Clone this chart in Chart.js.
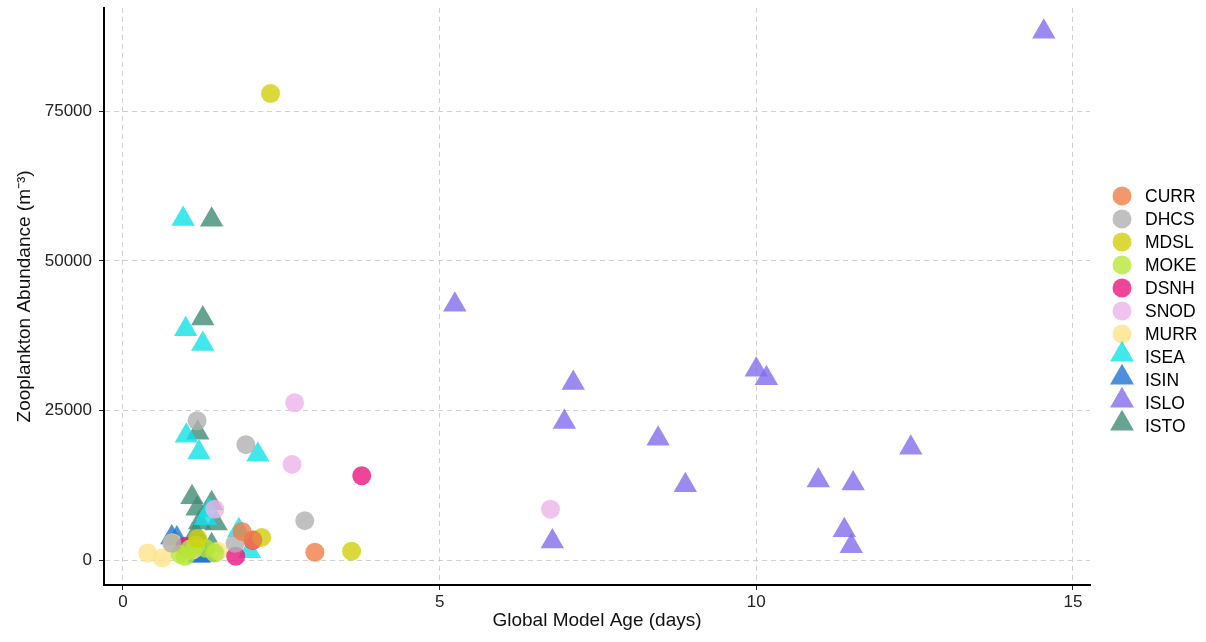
<!DOCTYPE html>
<html>
<head>
<meta charset="utf-8">
<script src="https://cdn.jsdelivr.net/npm/chart.js@4"></script>
<style>
  html, body { margin: 0; padding: 0; background: #fff; }
  #wrap { width: 1206px; height: 642px; }
</style>
</head>
<body>
<div id="wrap"><canvas id="chart"></canvas></div>
<script>
// ---- data ----
const groups = ["CURR", "DHCS", "MDSL", "MOKE", "DSNH", "SNOD", "MURR", "ISEA", "ISIN", "ISLO", "ISTO"];

const CURR_age = [1.88, 2.05, 3.03];
const CURR_abund = [4800, 3400, 1300];

const DHCS_age = [1.17, 1.94, 2.87, 1.77, 0.77];
const DHCS_abund = [23300, 19300, 6600, 2800, 2800];

const MDSL_age = [2.33, 3.61, 2.19, 1.18];
const MDSL_abund = [78000, 1500, 3800, 3600];

const MOKE_age = [0.9, 1.15, 1.3, 1.45, 0.98, 1.05];
const MOKE_abund = [1000, 2500, 2000, 1200, 600, 1800];

const DSNH_age = [3.77, 1.78, 2.05, 0.98];
const DSNH_abund = [14100, 650, 3300, 2300];

const SNOD_age = [2.71, 2.67, 6.75, 1.45];
const SNOD_abund = [26300, 16000, 8500, 8500];

const MURR_age = [0.39, 0.62, 0.78, 1.1, 1.5];
const MURR_abund = [1200, 350, 2900, 1700, 1500];

const ISEA_age = [0.95, 0.99, 1.26, 1.0, 1.2, 2.13, 1.83, 2.0, 1.36, 1.3];
const ISEA_abund = [57000, 38600, 36100, 20800, 18000, 17600, 5000, 1500, 8300, 7000];

const ISIN_age = [0.77, 0.85, 1.2, 1.3];
const ISIN_abund = [3800, 3600, 700, 800];

const ISLO_age = [14.54, 5.24, 10.0, 10.16, 7.11, 6.97, 8.45, 12.44, 8.88, 10.98, 11.53, 11.39, 11.5, 6.78];
const ISLO_abund = [88300, 42700, 31800, 30400, 29600, 23100, 20300, 18800, 12500, 13300, 12800, 5000, 2300, 3100];

const ISTO_age = [1.4, 1.26, 1.18, 1.09, 1.17, 1.4, 1.21, 1.47, 1.15, 1.4];
const ISTO_abund = [56900, 40400, 21300, 10500, 8600, 9500, 6300, 6100, 4500, 2500];

const xTicks = [0, 5, 10, 15];
const yTicks = [0, 25000, 50000, 75000];

// ---- styling ----
const colors = {
    CURR: "rgba(239,126,71,0.8)",
    DHCS: "rgba(176,176,176,0.8)",
    MDSL: "rgba(207,207,11,0.8)",
    MOKE: "rgba(183,230,55,0.8)",
    DSNH: "rgba(234,22,126,0.8)",
    SNOD: "rgba(236,180,234,0.8)",
    MURR: "rgba(255,227,136,0.8)",
    ISEA: "rgba(16,226,231,0.8)",
    ISIN: "rgba(29,116,210,0.8)",
    ISLO: "rgba(130,109,236,0.8)",
    ISTO: "rgba(65,140,118,0.8)"
};

const series = {
    CURR: [CURR_age, CURR_abund],
    DHCS: [DHCS_age, DHCS_abund],
    MDSL: [MDSL_age, MDSL_abund],
    MOKE: [MOKE_age, MOKE_abund],
    DSNH: [DSNH_age, DSNH_abund],
    SNOD: [SNOD_age, SNOD_abund],
    MURR: [MURR_age, MURR_abund],
    ISEA: [ISEA_age, ISEA_abund],
    ISIN: [ISIN_age, ISIN_abund],
    ISLO: [ISLO_age, ISLO_abund],
    ISTO: [ISTO_age, ISTO_abund]
};

const CIRCLE_R = 9.5;
const TRI_R = 13.5;

const datasets = groups.map(function (g) {
    const tri = g.startsWith("IS");
    const [xs, ys] = series[g];
    return {
        label: g,
        data: xs.map((x, i) => ({ x: x, y: ys[i] })),
        pointStyle: tri ? "triangle" : "circle",
        pointRadius: tri ? TRI_R : CIRCLE_R,
        pointHoverRadius: tri ? TRI_R : CIRCLE_R,
        backgroundColor: colors[g],
        borderColor: colors[g],
        borderWidth: 0
    };
});

const fontFamily = "'Liberation Sans', Arial, sans-serif";

// legend drawn to the right of the panel, ggplot style
const sideLegend = {
    id: "sideLegend",
    afterDraw(chart) {
        const ctx = chart.ctx;
        const keyX = chart.chartArea.right + 32;
        const textX = keyX + 23;
        let y = 196;
        ctx.save();
        ctx.font = "17.5px " + fontFamily;
        ctx.textBaseline = "middle";
        chart.data.datasets.forEach(function (ds) {
            ctx.fillStyle = ds.backgroundColor;
            ctx.beginPath();
            if (ds.pointStyle === "triangle") {
                const r = 13.8;
                const cy = y - 2.5;
                ctx.moveTo(keyX, cy - r);
                ctx.lineTo(keyX + r * Math.sqrt(3) / 2, cy + r / 2);
                ctx.lineTo(keyX - r * Math.sqrt(3) / 2, cy + r / 2);
                ctx.closePath();
            } else {
                ctx.arc(keyX, y, 9.5, 0, Math.PI * 2);
            }
            ctx.fill();
            ctx.fillStyle = "#000";
            ctx.fillText(ds.label, textX, y + 1);
            y += 23;
        });
        ctx.restore();
    }
};

new Chart(document.getElementById("chart"), {
    type: "scatter",
    data: { datasets: datasets },
    plugins: [sideLegend],
    options: {
        responsive: true,
        maintainAspectRatio: false,
        animation: false,
        layout: { autoPadding: false, padding: { top: 1, right: 116, left: 0, bottom: 0 } },
        plugins: {
            tooltip: { enabled: false },
            legend: { display: false }
        },
        scales: {
            x: {
                type: "linear",
                min: -0.3,
                max: 15.27,
                afterBuildTicks: function (s) {
                    s.ticks = xTicks.map(v => ({ value: v }));
                },
                afterFit: function (s) {
                    s.height = 57;
                },
                grid: {
                    color: "#d0d0d0",
                    tickColor: "#222",
                    tickLength: 5,
                    tickBorderDash: [],
                    lineWidth: 1
                },
                border: { display: true, color: "#000", width: 2, dash: [5, 4] },
                ticks: {
                    color: "#222",
                    padding: 2,
                    font: { family: fontFamily, size: 17 }
                },
                title: {
                    display: true,
                    text: "Global Model Age (days)",
                    color: "#111",
                    padding: { top: 0, bottom: 10 },
                    font: { family: fontFamily, size: 19 }
                }
            },
            y: {
                type: "linear",
                min: -4158,
                max: 92300,
                afterBuildTicks: function (s) {
                    s.ticks = yTicks.map(v => ({ value: v }));
                },
                afterFit: function (s) {
                    s.width = 104;
                },
                grid: {
                    color: "#d0d0d0",
                    tickColor: "#222",
                    tickLength: 5,
                    tickBorderDash: [],
                    lineWidth: 1
                },
                border: { display: true, color: "#000", width: 2, dash: [5, 4] },
                ticks: {
                    color: "#222",
                    padding: 7,
                    font: { family: fontFamily, size: 17, lineHeight: 0.1 },
                    callback: v => String(v)
                },
                title: {
                    display: true,
                    text: "Zooplankton Abundance (m⁻³)",
                    color: "#111",
                    padding: { top: 13, bottom: 0 },
                    font: { family: fontFamily, size: 19 }
                }
            }
        }
    }
});
</script>
</body>
</html>
